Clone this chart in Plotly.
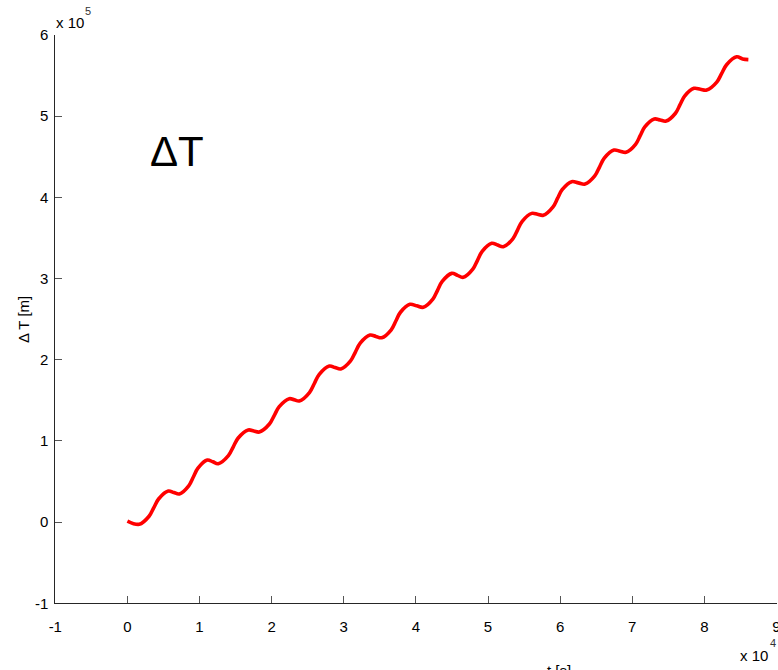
import plotly.graph_objects as go

# Distance along track [m] and accumulated Delta T [m]
dist_m = [
    0, 1650,
    3000, 3660, 4320, 5670, 6435,
    7200, 8500, 9140, 9780, 11080, 11840,
    12600, 14000, 14680, 15360, 16760, 17525,
    18290, 19690, 20370, 21050, 22450, 23145,
    23840, 25240, 25920, 26600, 28000, 28790,
    29580, 30940, 31610, 32280, 33640, 34450,
    35260, 36580, 37220, 37860, 39180, 40105,
    41030, 42350, 43000, 43650, 44970, 45770,
    46570, 47890, 48540, 49190, 50510, 51315,
    52120, 53440, 54090, 54740, 56060, 56865,
    57670, 58990, 59635, 60280, 61600, 62525,
    63450, 64800, 65460, 66120, 67470, 68305,
    69140, 70460, 71100, 71740, 73060, 73875,
    74690, 75990, 76625, 77260, 78560, 79440,
    80320, 81720, 82400, 83080, 84480, 85300, 86100,
]
delta_t_m = [
    1350, -2600,
    7200, 17850, 28500, 38300, 36500,
    34700, 44700, 55600, 66500, 76500, 74250,
    72000, 81900, 92750, 103600, 113500, 112250,
    111000, 120800, 131500, 142200, 152000, 150600,
    149200, 159500, 170750, 182000, 192300, 190450,
    188600, 198600, 209500, 220400, 230400, 228750,
    227100, 236900, 247700, 258500, 268300, 266450,
    264600, 274600, 285500, 296400, 306400, 303950,
    301500, 311500, 322450, 333400, 343400, 341300,
    339200, 349000, 359750, 370500, 380300, 379150,
    378000, 387900, 398650, 409400, 419300, 417850,
    416400, 426400, 437350, 448300, 458300, 456900,
    455500, 465300, 476000, 486700, 496500, 495250,
    494000, 503600, 514150, 524700, 534300, 533250,
    532200, 542000, 552700, 563400, 573200, 570500, 569700,
]

x_ticks = [-10000, 0, 10000, 20000, 30000, 40000, 50000, 60000, 70000, 80000, 90000]
x_tick_text = ["-1", "0", "1", "2", "3", "4", "5", "6", "7", "8", "9"]
y_ticks = [-100000, 0, 100000, 200000, 300000, 400000, 500000, 600000]
y_tick_text = ["-1", "0", "1", "2", "3", "4", "5", "6"]

W, H = 778, 670
FONT = "Liberation Sans, Arial, Helvetica, sans-serif"
AXIS_COL = "#262626"


def px_x(p):
    return p / W


def px_y(p):
    return (H - p) / H


fig = go.Figure()
fig.add_trace(go.Scatter(
    x=dist_m, y=delta_t_m, mode="lines",
    line=dict(color="#ff0000", width=3.6, shape="spline", smoothing=1.0),
    hoverinfo="skip", showlegend=False,
))

axis_common = dict(
    showgrid=False, zeroline=False, showline=True, linecolor=AXIS_COL, linewidth=1,
    ticks="inside", ticklen=7, tickcolor="#555555", tickwidth=1, mirror=False,
    tickfont=dict(family=FONT, size=15, color="#000000"),
    automargin=False, ticklabeloverflow="allow",
)

fig.update_layout(
    width=W, height=H,
    margin=dict(l=0, r=0, t=0, b=0, autoexpand=False),
    paper_bgcolor="white", plot_bgcolor="white",
    xaxis=dict(range=[-10000, 90000.5], domain=[px_x(55.3), px_x(776.5)],
               tickvals=x_ticks, ticktext=x_tick_text, ticklabelstandoff=10, **axis_common),
    yaxis=dict(range=[-100000, 600000], domain=[px_y(603.3), px_y(35)],
               tickvals=y_ticks, ticktext=y_tick_text, ticklabelstandoff=3, **axis_common),
)

annos = [
    # exponent labels
    dict(x=px_x(54), y=px_y(23), text="x 10", xanchor="left", yanchor="middle",
         font=dict(family=FONT, size=15, color="#000")),
    dict(x=px_x(88), y=px_y(11), text="5", xanchor="center", yanchor="middle",
         font=dict(family=FONT, size=11, color="#333")),
    dict(x=px_x(738), y=px_y(655), text="x 10", xanchor="left", yanchor="middle",
         font=dict(family=FONT, size=15, color="#000")),
    dict(x=px_x(778), y=px_y(643), text="4", xanchor="right", yanchor="middle",
         font=dict(family=FONT, size=11, color="#333")),
    # y axis title
    dict(x=px_x(23), y=px_y(320), text="Δ T [m]", textangle=-90, xanchor="center",
         yanchor="middle", font=dict(family=FONT, size=15, color="#000")),
    # x axis title, sitting mostly below the page edge
    dict(x=px_x(559), y=px_y(660), text="t [s]", xanchor="center", yanchor="top",
         font=dict(family=FONT, size=15, color="#000")),
    # panel label
    dict(x=px_x(177), y=px_y(151), text="ΔT", xanchor="center", yanchor="middle",
         font=dict(family=FONT, size=42, color="#000")),
]
for a in annos:
    fig.add_annotation(xref="paper", yref="paper", showarrow=False, **a)

fig.write_html("out.html")
